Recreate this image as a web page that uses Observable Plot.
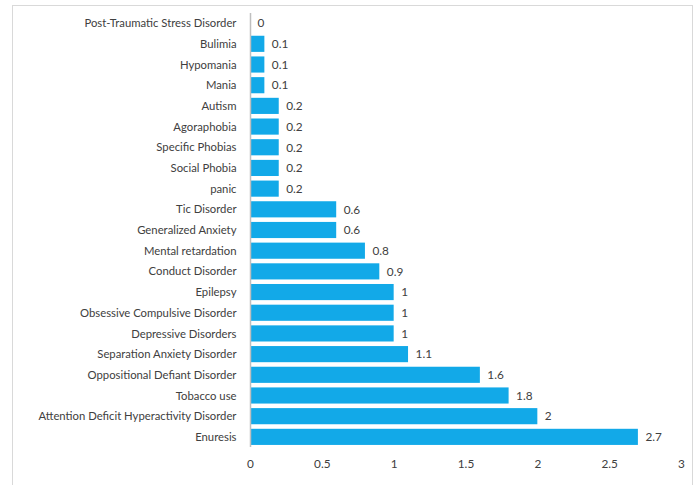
<!DOCTYPE html>
<html>
<head>
<meta charset="utf-8">
<script src="https://cdn.jsdelivr.net/npm/d3@7"></script>
<script src="https://cdn.jsdelivr.net/npm/@observablehq/plot@0.6"></script>
<style>
  html, body { margin: 0; padding: 0; background: #fff; overflow: hidden; }
  #frame { position: absolute; left: 12px; top: 5px; width: 679px; height: 500px; border: 1px solid #d9d9d9; }
  #chart { position: absolute; left: 0; top: 0; }
</style>
</head>
<body>
<div id="frame"></div>
<div id="chart"></div>
<script>
const categories = [
  "Post-Traumatic Stress Disorder",
  "Bulimia",
  "Hypomania",
  "Mania",
  "Autism",
  "Agoraphobia",
  "Specific Phobias",
  "Social Phobia",
  "panic",
  "Tic Disorder",
  "Generalized Anxiety",
  "Mental retardation",
  "Conduct Disorder",
  "Epilepsy",
  "Obsessive Compulsive Disorder",
  "Depressive Disorders",
  "Separation Anxiety Disorder",
  "Oppositional Defiant Disorder",
  "Tobacco use",
  "Attention Deficit Hyperactivity Disorder",
  "Enuresis"
];
const values = [0, 0.1, 0.1, 0.1, 0.2, 0.2, 0.2, 0.2, 0.2, 0.6, 0.6, 0.8, 0.9, 1, 1, 1, 1.1, 1.6, 1.8, 2, 2.7];
const xTicks = [0, 0.5, 1, 1.5, 2, 2.5, 3];

const data = categories.map((c, i) => ({category: c, value: values[i]}));

const chart = Plot.plot({
  width: 696,
  height: 485,
  marginLeft: 250,
  marginRight: 15,
  marginTop: 13,
  marginBottom: 38,
  style: {fontFamily: "Lato, 'Open Sans', sans-serif", fontSize: "11.3px", color: "#404040", background: "transparent"},
  x: {domain: [0, 3], ticks: xTicks, tickFormat: d => String(d), label: null},
  y: {domain: categories, paddingInner: 0.22, paddingOuter: 0.1, round: false, label: null},
  marks: [
    Plot.barX(data, {x: "value", y: "category", fill: "#12a9e8"}),
    Plot.ruleX([0], {stroke: "#bfbfbf", strokeWidth: 1.5}),
    Plot.text(data, {x: "value", y: "category", text: d => String(d.value), textAnchor: "start", dx: 7, fill: "#404040", fontSize: 11.8}),
    Plot.axisY({tickSize: 0, tickPadding: 14, fontSize: 11.3, label: null}),
    Plot.axisX({tickSize: 0, tickPadding: 12, ticks: xTicks, tickFormat: d => String(d), fontSize: 11.8, label: null})
  ]
});
document.getElementById("chart").appendChild(chart);
</script>
</body>
</html>
